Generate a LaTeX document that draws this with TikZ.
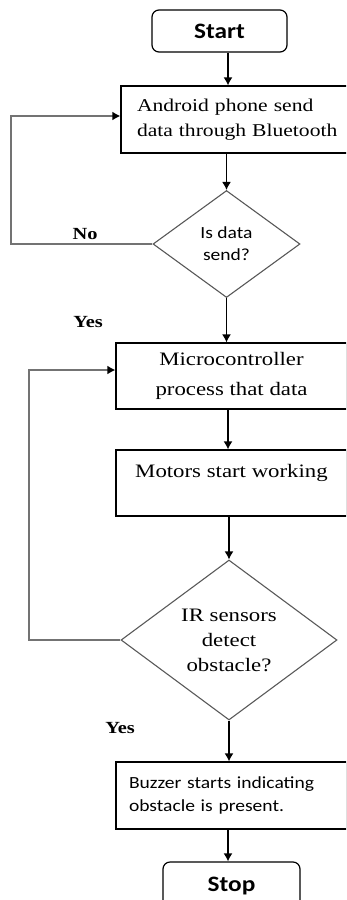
\documentclass[tikz,border=0pt]{standalone}
\usepackage{fontspec}
\setmainfont{Liberation Serif}[FakeStretch=1.2]
\newfontfamily\calibri{Carlito}[FakeStretch=1.15]
\usetikzlibrary{shapes.geometric,arrows.meta}

\begin{document}
\begin{tikzpicture}[x=1pt,y=-1pt]

% définition des styles
\tikzstyle{boite}=[rectangle,draw=black,line width=1.2pt,inner sep=0pt]
\tikzstyle{arrondi}=[boite,rounded corners=7pt,font=\calibri\bfseries\fontsize{22}{26}\selectfont]
\tikzstyle{losange}=[diamond,draw=black!65,line width=1.1pt,inner sep=0pt,align=center]
\tikzstyle{fleche}=[-{Latex[length=8pt,width=9pt]},line width=1.4pt]
\tikzstyle{retour}=[-{Latex[length=8pt,width=9pt,color=black]},draw=black!55,line width=2pt]
\tikzstyle{etiquette}=[font=\bfseries\fontsize{17}{20}\selectfont]

\clip (0,0) rectangle (346,900);
\coordinate (axe) at (228,0);

% les boites
\node [arrondi,minimum width=135pt,minimum height=42pt] (start) at (219.5,31) {Start};
\node [boite,minimum width=240pt,minimum height=67pt,inner xsep=16pt,text width=208pt,align=left,
       font=\fontsize{18}{25}\selectfont] (android) at (241,119.5)
      {Android phone send\\data through Bluetooth};
\node [losange,minimum width=147pt,minimum height=107pt,font=\calibri\fontsize{17}{22}\selectfont]
      (d1) at (226.5,244) {Is data\\send?};
\node [boite,minimum width=231pt,minimum height=66pt,align=center,font=\fontsize{19}{30}\selectfont]
      (micro) at (231.5,376) {Microcontroller\\process that data};
\node [boite,minimum width=231pt,minimum height=66pt,align=center,font=\fontsize{19}{25}\selectfont]
      (motors) at (231.5,483) {Motors start working\\\mbox{}};
\node [losange,minimum width=216pt,minimum height=160pt,font=\fontsize{19}{25}\selectfont]
      (d2) at (229,640) {IR sensors\\detect\\obstacle?};
\node [boite,minimum width=231pt,minimum height=67pt,inner xsep=13pt,text width=205pt,align=left,
       font=\calibri\fontsize{17}{23}\selectfont] (buzzer) at (231.5,795.5)
      {Buzzer starts indicating\\obstacle is present.};
\node [arrondi,minimum width=137pt,minimum height=48pt] (stop) at (231.5,886) {Stop};

% les étiquettes
\node [etiquette] (no) at (85,234) {No};
\node [etiquette] (yes1) at (88,322) {Yes};
\node [etiquette] (yes2) at (120,728) {Yes};

% les flèches
\draw[fleche] (start.south -| axe) -- (android.north -| axe);
\draw[fleche] (d1.north |- android.south) -- (d1.north);
\draw[fleche] (d1.south) -- (d1.south |- micro.north);
\draw[fleche] (micro.south -| axe) -- (motors.north -| axe);
\draw[fleche] (d2.north |- motors.south) -- (d2.north);
\draw[fleche] (d2.south) -- (d2.south |- buzzer.north);
\draw[fleche] (buzzer.south -| axe) -- (stop.north -| axe);

% les retours
\draw[retour] (d1.west) -- ++(-141,0) |- ([yshift=3.5pt]android.west);
\draw[retour] (d2.west) -- ++(-91,0) |- ([yshift=6pt]micro.west);

\end{tikzpicture}
\end{document}
